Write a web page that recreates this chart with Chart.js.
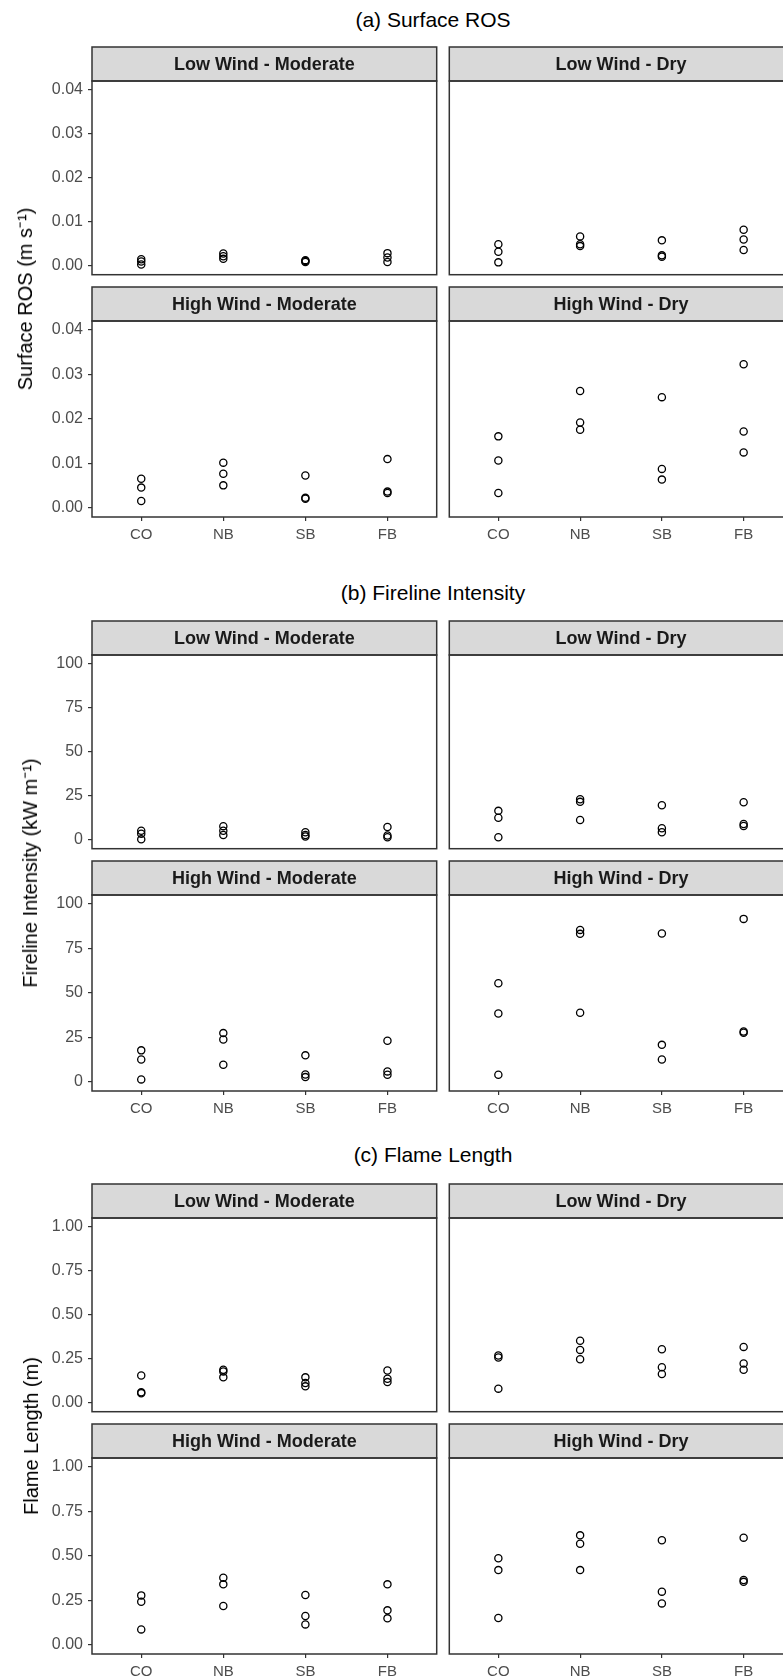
<!DOCTYPE html>
<html>
<head>
<meta charset="utf-8">
<script src="https://cdn.jsdelivr.net/npm/chart.js@4.4.0/dist/chart.umd.min.js"></script>
<style>
  html, body { margin: 0; padding: 0; background: #fff; overflow: hidden; }
  #page { position: relative; width: 783px; height: 1678px; overflow: hidden; font-family: 'Liberation Sans', Arial, sans-serif; }
  .title { position: absolute; left: 0; width: 866px; text-align: center; font-size: 21px; line-height: 24px; color: #000; }
  .ytitle { position: absolute; font-size: 20px; line-height: 24px; color: #000; white-space: nowrap; transform: translate(-50%, -50%) rotate(-90deg); }
  canvas { position: absolute; }
</style>
</head>
<body>
<div id="page"></div>
<script>
const treatments = ['CO', 'NB', 'SB', 'FB'];
const facetNames = ['Low Wind - Moderate', 'Low Wind - Dry', 'High Wind - Moderate', 'High Wind - Dry'];

// (a) surface rate of spread, m s-1 : one list per treatment
const rosLowMod  = [[0.0015, 0.0010, 0.0003], [0.0028, 0.0022, 0.0016], [0.0013, 0.0011, 0.0009], [0.0029, 0.0019, 0.0009]];
const rosLowDry  = [[0.0049, 0.0032, 0.0008], [0.0067, 0.0049, 0.0045], [0.0058, 0.0024, 0.0021], [0.0082, 0.0060, 0.0036]];
const rosHighMod = [[0.0066, 0.0046, 0.0016], [0.0102, 0.0077, 0.0051], [0.0073, 0.0023, 0.0021], [0.0110, 0.0037, 0.0034]];
const rosHighDry = [[0.0161, 0.0107, 0.0034], [0.0263, 0.0192, 0.0176], [0.0249, 0.0088, 0.0064], [0.0323, 0.0172, 0.0125]];
const rosTicks = [0, 0.01, 0.02, 0.03, 0.04];
const rosTickLabels = ['0.00', '0.01', '0.02', '0.03', '0.04'];

// (b) fireline intensity, kW m-1
const fiLowMod  = [[5.2, 3.5, 0.3], [7.8, 5.2, 2.8], [4.3, 2.8, 1.9], [7.3, 2.5, 1.5]];
const fiLowDry  = [[16.5, 12.6, 1.5], [23.1, 21.6, 11.3], [19.7, 6.6, 4.3], [21.4, 9.0, 7.9]];
const fiHighMod = [[17.8, 12.7, 1.5], [27.5, 23.9, 9.7], [15.0, 4.3, 2.8], [23.2, 6.0, 4.1]];
const fiHighDry = [[55.5, 38.5, 4.1], [85.4, 83.2, 38.9], [83.4, 20.9, 12.7], [91.6, 28.4, 27.7]];
const fiTicks = [0, 25, 50, 75, 100];
const fiTickLabels = ['0', '25', '50', '75', '100'];

// (c) flame length, m
const flLowMod  = [[0.156, 0.060, 0.055], [0.188, 0.179, 0.145], [0.145, 0.113, 0.094], [0.184, 0.137, 0.118]];
const flLowDry  = [[0.269, 0.258, 0.081], [0.353, 0.301, 0.248], [0.305, 0.203, 0.164], [0.318, 0.224, 0.188]];
const flHighMod = [[0.279, 0.243, 0.088], [0.378, 0.341, 0.219], [0.281, 0.163, 0.116], [0.341, 0.195, 0.150]];
const flHighDry = [[0.487, 0.421, 0.152], [0.616, 0.569, 0.421], [0.588, 0.300, 0.234], [0.603, 0.365, 0.355]];
const flTicks = [0, 0.25, 0.5, 0.75, 1];
const flTickLabels = ['0.00', '0.25', '0.50', '0.75', '1.00'];

const sections = [
  { title: '(a) Surface ROS', ytitle: 'Surface ROS (m s⁻¹)', titleY: 20, stripTop: 47, ytitleX: 25,
    facets: [rosLowMod, rosLowDry, rosHighMod, rosHighDry], ticks: rosTicks, tickLabels: rosTickLabels },
  { title: '(b) Fireline Intensity', ytitle: 'Fireline Intensity (kW m⁻¹)', titleY: 593, stripTop: 621, ytitleX: 30,
    facets: [fiLowMod, fiLowDry, fiHighMod, fiHighDry], ticks: fiTicks, tickLabels: fiTickLabels },
  { title: '(c) Flame Length', ytitle: 'Flame Length (m)', titleY: 1155, stripTop: 1183.5, ytitleX: 31,
    facets: [flLowMod, flLowDry, flHighMod, flHighDry], ticks: flTicks, tickLabels: flTickLabels }
];

const STRIP_H = 34, PANEL_H = 196, ROW_GAP = 10, XAXIS_H = 32, YAXIS_W = 92;
const colLeft = [92, 448], colRight = [439, 795];
const page = document.getElementById('page');

// panel border + grey facet strip
const facetFrame = {
  id: 'facetFrame',
  afterDraw(chart, args, opts) {
    const { left, top, right, bottom } = chart.chartArea;
    const ctx = chart.ctx;
    ctx.save();
    ctx.fillStyle = '#D9D9D9';
    ctx.fillRect(left, top - STRIP_H, right - left, STRIP_H);
    ctx.strokeStyle = '#333333';
    ctx.lineWidth = 1.5;
    ctx.strokeRect(left, top - STRIP_H, right - left, STRIP_H);
    ctx.strokeRect(left, top, right - left, bottom - top);
    ctx.fillStyle = '#1A1A1A';
    ctx.font = 'bold 18px "Liberation Sans", Arial, sans-serif';
    ctx.textAlign = 'center';
    ctx.textBaseline = 'middle';
    ctx.fillText(opts.label, (left + right) / 2, top - STRIP_H / 2 + 1);
    ctx.restore();
  }
};

function addText(cls, text, css) {
  const d = document.createElement('div');
  d.className = cls;
  d.textContent = text;
  Object.assign(d.style, css);
  page.appendChild(d);
}

sections.forEach(sec => {
  addText('title', sec.title, { top: (sec.titleY - 12) + 'px' });
  const span = sec.ticks[sec.ticks.length - 1] - sec.ticks[0];
  const yMin = sec.ticks[0] - 0.05 * span;
  const yMax = sec.ticks[sec.ticks.length - 1] + 0.05 * span;

  sec.facets.forEach((facet, f) => {
    const row = Math.floor(f / 2), col = f % 2;
    const panelTop = sec.stripTop + STRIP_H + row * (PANEL_H + STRIP_H + ROW_GAP);
    const panelBottom = panelTop + PANEL_H;
    const cLeft = col === 0 ? 0 : colLeft[col] - 4;
    const cTop = panelTop - STRIP_H - 2;
    const cWidth = colRight[col] + 3 - cLeft;
    const cHeight = panelBottom - cTop + (row === 1 ? XAXIS_H : 3);

    const canvas = document.createElement('canvas');
    canvas.width = cWidth;
    canvas.height = cHeight;
    canvas.style.left = cLeft + 'px';
    canvas.style.top = cTop + 'px';
    canvas.style.width = cWidth + 'px';
    canvas.style.height = cHeight + 'px';
    page.appendChild(canvas);

    const points = facet.flatMap((vals, i) => vals.map(v => ({ x: i + 1, y: v })));

    new Chart(canvas, {
      type: 'scatter',
      data: {
        datasets: [{
          data: points,
          pointStyle: 'circle',
          pointRadius: 3.6,
          pointBorderWidth: 1.3,
          borderColor: '#000000',
          backgroundColor: 'rgba(0,0,0,0)'
        }]
      },
      options: {
        responsive: false,
        animation: false,
        events: [],
        layout: { padding: { top: STRIP_H + 2, left: col === 0 ? 0 : 4, right: 3, bottom: row === 1 ? 0 : 3 } },
        plugins: { legend: { display: false }, tooltip: { enabled: false }, facetFrame: { label: facetNames[f] } },
        scales: {
          x: {
            type: 'linear',
            display: row === 1,
            min: 0.4,
            max: 4.6,
            afterBuildTicks: s => { s.ticks = treatments.map((t, i) => ({ value: i + 1 })); },
            afterFit: s => { if (row === 1) s.height = XAXIS_H; s.paddingLeft = 0; s.paddingRight = 0; },
            grid: { display: true, drawOnChartArea: false, drawTicks: true, tickLength: 4, color: '#333333', lineWidth: 1.2 },
            border: { display: false },
            ticks: {
              padding: 5, color: '#4D4D4D', maxRotation: 0, autoSkip: false,
              font: { family: '"Liberation Sans", Arial, sans-serif', size: 15 },
              callback: (v, i) => treatments[i]
            }
          },
          y: {
            type: 'linear',
            display: col === 0,
            min: yMin,
            max: yMax,
            afterBuildTicks: s => { s.ticks = sec.ticks.map(v => ({ value: v })); },
            afterFit: s => { if (col === 0) s.width = YAXIS_W; s.paddingTop = 0; s.paddingBottom = 0; },
            grid: { display: true, drawOnChartArea: false, drawTicks: true, tickLength: 4, color: '#333333', lineWidth: 1.2 },
            border: { display: false },
            ticks: {
              padding: 5, color: '#4D4D4D', autoSkip: false,
              font: { family: '"Liberation Sans", Arial, sans-serif', size: 16 },
              callback: (v, i) => sec.tickLabels[i]
            }
          }
        }
      },
      plugins: [facetFrame]
    });
  });

  const midY = (sec.stripTop + STRIP_H + sec.stripTop + 2 * (STRIP_H + PANEL_H) + ROW_GAP) / 2;
  addText('ytitle', sec.ytitle, { left: sec.ytitleX + 'px', top: midY + 'px' });
});
</script>
</body>
</html>
